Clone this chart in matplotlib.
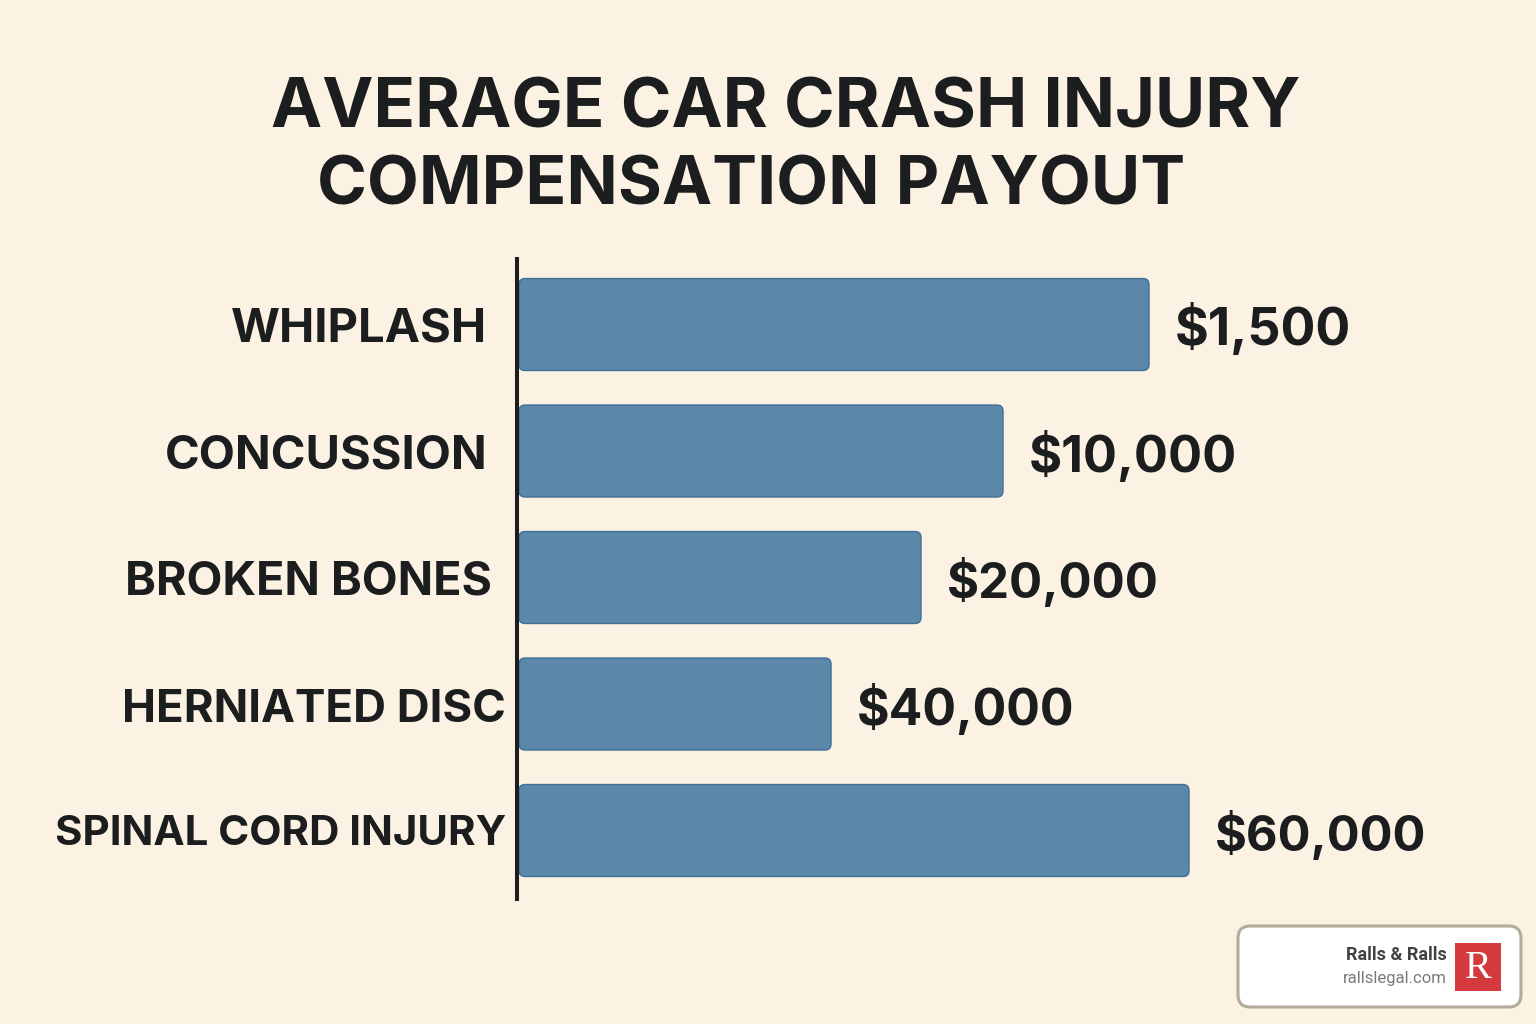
import matplotlib
matplotlib.use("Agg")
import matplotlib.pyplot as plt
from matplotlib.patches import FancyBboxPatch, Rectangle

W, H = 1536, 1024

title_lines = ["AVERAGE CAR CRASH INJURY", "COMPENSATION PAYOUT"]
categories = ["WHIPLASH", "CONCUSSION", "BROKEN BONES", "HERNIATED DISC", "SPINAL CORD INJURY"]
value_labels = ["$1,500", "$10,000", "$20,000", "$40,000", "$60,000"]
# bar lengths do not follow the printed amounts
bar_lengths = [630, 484, 402, 312, 670]

BG = "#FBF2E4"
BAR = "#5B87A9"
BAR_EDGE = "#3F7095"
DARK = "#1B1D1E"

plt.rcParams["font.family"] = ["Inter", "DejaVu Sans"]

fig = plt.figure(figsize=(W / 100, H / 100), dpi=100, facecolor=BG)


def fx(px):
    return px / W


def fy(py):
    return 1 - py / H


# title
fig.text(fx(786), fy(109), title_lines[0], ha="center", va="center", fontsize=49.4,
         fontweight="bold", color=DARK)
fig.text(fx(751), fy(187), title_lines[1], ha="center", va="center", fontsize=48.5,
         fontweight="bold", color=DARK)

# chart axes, x in the units of bar_lengths, one unit is one pixel
ax = fig.add_axes([fx(517), fy(899), fx(1019), (899 - 259) / H])
ax.set_facecolor("none")
ax.set_xlim(-1, 1018)
ax.set_ylim(4.5415, -0.518)
for side in ["top", "right", "bottom"]:
    ax.spines[side].set_visible(False)
ax.spines["left"].set_linewidth(2.9)
ax.spines["left"].set_color(DARK)
ax.set_xticks([])
ax.set_yticks([])

bar_h = 0.727
label_right = [-31, -30, -26, -12, -12]
label_size = [34, 33.85, 33.55, 32.8, 30.2]
value_size = [37.2, 36.4, 35.3, 35.9, 35.1]
y_shift = [5, 5, 5, 6, 3]
value_shift = [5, 5, 5, 5, 5]
for i, (cat, val, length) in enumerate(zip(categories, value_labels, bar_lengths)):
    ax.add_patch(FancyBboxPatch((1, i - bar_h / 2), length, bar_h,
                                boxstyle="round,pad=0,rounding_size=6",
                                mutation_aspect=bar_h / 92,
                                facecolor=BAR, edgecolor=BAR_EDGE, linewidth=1.0))
    ax.annotate(cat, (0, i), xytext=(label_right[i] * 0.72, -y_shift[i] * 0.72),
                textcoords="offset points", ha="right", va="center",
                fontsize=label_size[i], fontweight="bold", color=DARK)
    ax.annotate(val, (length, i), xytext=(27 * 0.72, -value_shift[i] * 0.72),
                textcoords="offset points", ha="left", va="center",
                fontsize=value_size[i], fontweight="bold", color=DARK)

# logo card in the corner
card = FancyBboxPatch((fx(1238), fy(1007)), 283 / W, 81 / H,
                      boxstyle="round,pad=0,rounding_size=0.008",
                      mutation_aspect=W / H, transform=fig.transFigure,
                      facecolor="white", edgecolor="#B5AB9B", linewidth=2.2)
fig.add_artist(card)
fig.add_artist(Rectangle((fx(1455), fy(991)), 46 / W, 48 / H, transform=fig.transFigure,
                         facecolor="#D3393D", edgecolor="none"))
fig.text(fx(1478), fy(968), "R", ha="center", va="center", fontsize=29, color="white",
         family="Liberation Serif")
fig.text(fx(1447), fy(955), "Ralls & Ralls", ha="right", va="center", fontsize=13,
         fontweight="bold", color="#424242", family="Roboto")
fig.text(fx(1447), fy(978), "rallslegal.com", ha="right", va="center", fontsize=12,
         color="#7A7A7A", family="Roboto")

fig.savefig("out.png", dpi=100, facecolor=BG)
